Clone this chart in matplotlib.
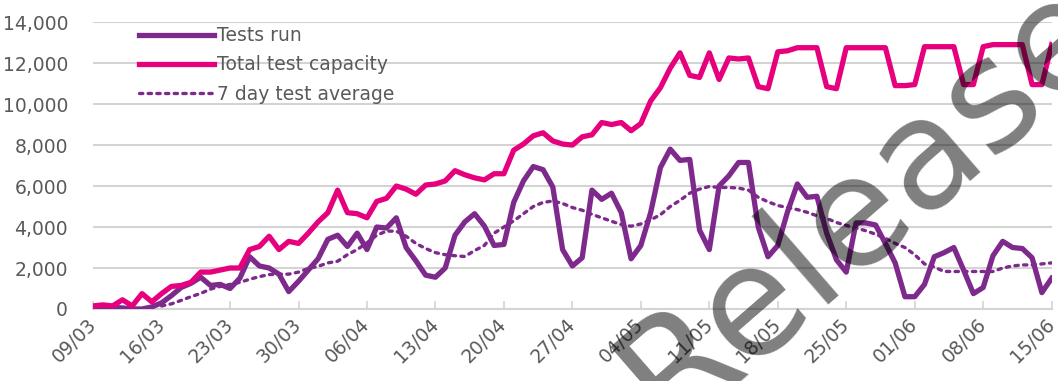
import matplotlib

matplotlib.use("Agg")
import matplotlib.pyplot as plt
import numpy as np

PURPLE, PINK, GRID, TXT = "#7E2A8C", "#E6007E", "#D4D4D4", "#595959"

plt.rcParams.update({"font.family": ["DejaVu Sans"], "font.size": 13})

# daily values, 09/03 .. 15/06
tests_run = [
    50, 80, 80, 50, 0, 0, 100, 300, 650, 1050, 1250, 1550, 1150, 1200, 1000,
    1500, 2550, 2100, 2000, 1700, 850, 1350, 1900, 2450, 3400, 3600, 3050, 3700,
    2900, 4000, 3950, 4450, 3000, 2350, 1650, 1550, 2000, 3600, 4250, 4650, 4050,
    3100, 3150, 5200, 6250, 6950, 6800, 5950, 2900, 2100, 2500, 5800, 5350, 5650,
    4700, 2450, 3100, 4700, 6900, 7800, 7250, 7300, 3850, 2900, 6000, 6500, 7150,
    7150, 4000, 2550, 3100, 4750, 6100, 5450, 5500, 3700, 2400, 1800, 4200, 4200,
    4100, 3200, 2250, 600, 600, 1200, 2550, 2750, 3000, 1900, 750, 1050, 2600,
    3300, 3000, 2950, 2500, 800, 1500,
]
capacity = [
    150, 200, 150, 450, 150, 750, 350, 750, 1100, 1150, 1300, 1800, 1800, 1900,
    2000, 2000, 2900, 3050, 3550, 2900, 3300, 3200, 3700, 4250, 4700, 5800, 4700,
    4650, 4450, 5250, 5400, 6000, 5850, 5600, 6050, 6100, 6250, 6750, 6550, 6400,
    6300, 6600, 6600, 7750, 8050, 8450, 8600, 8200, 8050, 8000, 8400, 8500, 9100,
    9000, 9100, 8700, 9050, 10150, 10800, 11750, 12500, 11400, 11300, 12500,
    11200, 12250, 12200, 12250, 10850, 10750, 12550, 12600, 12750, 12750, 12750,
    10850, 10750, 12750, 12750, 12750, 12750, 12750, 10900, 10900, 10950, 12800,
    12800, 12800, 12800, 10950, 10950, 12800, 12900, 12900, 12900, 12900, 10950,
    10950, 12900,
]
# 7 day average starts on 16/03
avg_7day = [
    150, 250, 420, 600, 760, 970, 1100, 1200, 1300, 1450, 1580, 1680, 1700, 1700,
    1800, 1980, 2080, 2250, 2330, 2650, 2900, 3230, 3600, 3800, 3800, 3550, 3200,
    2950, 2750, 2650, 2600, 2560, 2850, 3100, 3700, 4000, 4300, 4650, 5000, 5200,
    5270, 5150, 4950, 4820, 4620, 4450, 4280, 4120, 4040, 4150, 4350, 4600, 5000,
    5300, 5650, 5850, 5980, 5930, 5930, 5900, 5800, 5450, 5230, 5050, 4950, 4850,
    4720, 4550, 4420, 4220, 4080, 3950, 3820, 3650, 3450, 3200, 3000, 2650, 2200,
    2050, 1830, 1830, 1830, 1830, 1830, 1830, 2000, 2100, 2150, 2150, 2200, 2250,
    2300,
]
avg_start = 7
tick_labels = ["09/03", "16/03", "23/03", "30/03", "06/04", "13/04", "20/04",
               "27/04", "04/05", "11/05", "18/05", "25/05", "01/06", "08/06", "15/06"]

days = np.arange(len(tests_run))
avg_days = np.arange(avg_start, avg_start + len(avg_7day))

fig = plt.figure(figsize=(10.58, 3.81), dpi=100)
ax = fig.add_axes([0.088, 0.189, 0.906, 0.753])

ax.plot(days, tests_run, color=PURPLE, lw=3.8, solid_joinstyle="round",
        label="Tests run", zorder=3)
ax.plot(days, capacity, color=PINK, lw=3.8, solid_joinstyle="round",
        label="Total test capacity", zorder=3)
ax.plot(avg_days, avg_7day, color=PURPLE, lw=2.4, ls=(0, (1, 1.6)),
        dash_capstyle="round", label="7 day test average", zorder=3)

ax.set_xlim(0, len(tests_run) - 1)
ax.set_ylim(0, 14000)
ax.set_yticks(np.arange(0, 14001, 2000))
ax.set_yticklabels([f"{v:,}" for v in range(0, 14001, 2000)])
ax.set_xticks(np.arange(0, len(tests_run), 7))
ax.set_xticklabels(tick_labels, rotation=45, ha="right", va="center",
                   rotation_mode="anchor")
ax.grid(axis="y", color=GRID, lw=1.5)
ax.set_axisbelow(True)
for s in ["top", "right", "left"]:
    ax.spines[s].set_visible(False)
ax.spines["bottom"].set_color(GRID)
ax.spines["bottom"].set_linewidth(1.5)
ax.tick_params(axis="y", length=0, pad=18, labelcolor=TXT, labelsize=13.5)
ax.tick_params(axis="x", direction="in", length=6, color=GRID, width=1.2,
               pad=9, labelcolor=TXT, labelsize=13.5)

leg = ax.legend(loc="upper left", bbox_to_anchor=(0.03, 1.045), frameon=False,
                handlelength=4.0, handletextpad=0.15, labelspacing=0.55,
                fontsize=13.5)
for t in leg.get_texts():
    t.set_color(TXT)

# watermark, runs off the bottom-right corner as in the source
fig.text(866 / 1058, 1 - 203 / 381, "Release", rotation=41, fontsize=110,
         color="black", alpha=0.5, ha="center", va="center",
         rotation_mode="anchor", zorder=10)

fig.savefig("out.png", dpi=100)
